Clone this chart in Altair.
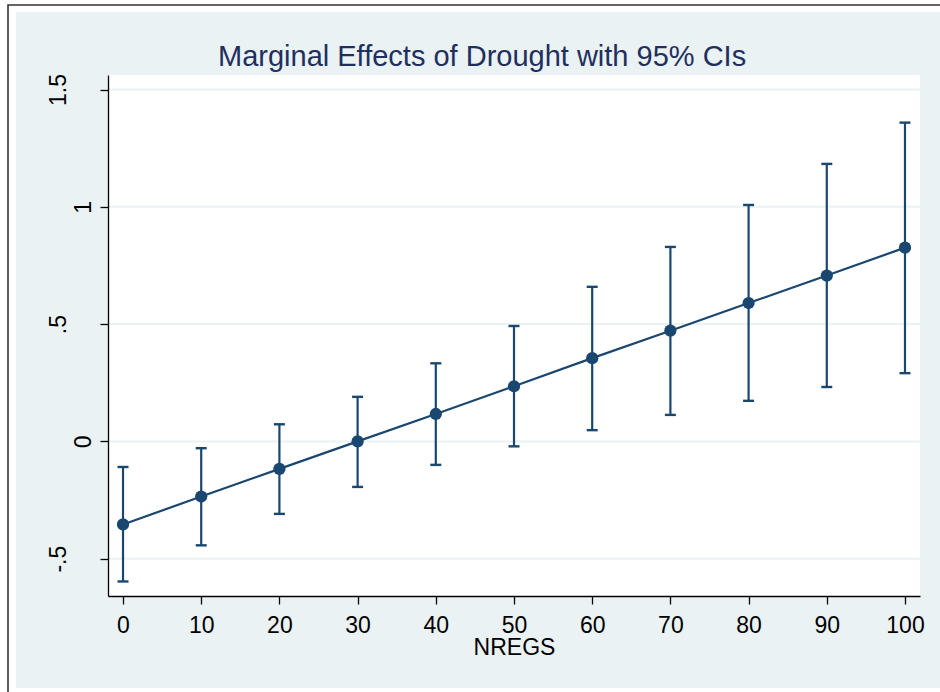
import altair as alt
import pandas as pd

# ---- data ----
x_vals = [0, 10, 20, 30, 40, 50, 60, 70, 80, 90, 100]
estimate = [-0.354, -0.235, -0.117, 0.0, 0.117, 0.235, 0.355, 0.472, 0.590, 0.707, 0.826]
ci_low = [-0.597, -0.443, -0.309, -0.194, -0.100, -0.021, 0.048, 0.113, 0.173, 0.232, 0.291]
ci_high = [-0.109, -0.029, 0.073, 0.190, 0.333, 0.492, 0.659, 0.829, 1.008, 1.183, 1.359]
y_ticks = [-0.5, 0, 0.5, 1, 1.5]
y_tick_labels = ["-.5", "0", ".5", "1", "1.5"]
x_ticks = [0, 10, 20, 30, 40, 50, 60, 70, 80, 90, 100]
title_text = "Marginal Effects of Drought with 95% CIs"
x_title = "NREGS"

df = pd.DataFrame({"NREGS": x_vals, "est": estimate, "lo": ci_low, "hi": ci_high})
grid_df = pd.DataFrame({"y": y_ticks})

NAVY = "#1a476f"
BG = "#EAF2F3"
FONT = "Liberation Sans"

label_expr = " : ".join(
    f"datum.value == {v} ? '{t}'" for v, t in zip(y_ticks, y_tick_labels)
) + " : ''"

xscale = alt.Scale(domain=[-1.92, 101.92], nice=False, zero=False)
yscale = alt.Scale(domain=[-0.659, 1.562], nice=False, zero=False)

xaxis = alt.Axis(
    values=x_ticks, title=x_title, grid=False,
    domainColor="black", domainWidth=1.3, tickColor="black", tickWidth=1.3, tickSize=8,
    labelFont=FONT, labelFontSize=23, labelColor="black", labelBaseline="alphabetic",
    labelPadding=28, labelFlush=False, labelOverlap=False,
    titleFont=FONT, titleFontSize=23, titleFontWeight="normal", titleColor="black",
    titleBaseline="alphabetic", titleY=58, zindex=1,
)
yaxis = alt.Axis(
    values=y_ticks, labelExpr=label_expr, title=None, grid=False,
    domainColor="black", domainWidth=1.3, tickColor="black", tickWidth=1.3, tickSize=8,
    labelFont=FONT, labelFontSize=23, labelColor="black", labelAngle=270, labelAlign="center",
    labelBaseline={"condition": {"test": "datum.value == 0 || datum.value == 1", "value": "line-top"},
                   "value": "line-bottom"},
    labelLineHeight=25, labelPadding=29, labelFlush=False, labelOverlap=False, zindex=1,
)

X = alt.X("NREGS:Q", scale=xscale, axis=xaxis)
Y = alt.Y("est:Q", scale=yscale, axis=yaxis)

one = alt.Data(values=[{"k": 1}])

# decorative graph region: light background, white plot region, outer border
bg = alt.Chart(one).mark_rect(fill=BG).encode(
    x=alt.value(-92), x2=alt.value(832), y=alt.value(-63), y2=alt.value(613))
border = alt.Chart(one).mark_rect(fill="white", fillOpacity=0, stroke="#333333", strokeWidth=1.6).encode(
    x=alt.value(-100), x2=alt.value(900), y=alt.value(-70), y2=alt.value(700))
plot_bg = alt.Chart(one).mark_rect(fill="white").encode(
    x=alt.value(0), x2=alt.value(812), y=alt.value(0), y2=alt.value(521))

grid = alt.Chart(grid_df).mark_rule(color=BG, strokeWidth=2).encode(
    y=alt.Y("y:Q", scale=yscale, axis=yaxis))

line = alt.Chart(df).mark_line(color=NAVY, strokeWidth=2.2).encode(x=X, y=Y)
bars = alt.Chart(df).mark_rule(color=NAVY, strokeWidth=2.2).encode(
    x=X, y=alt.Y("lo:Q", scale=yscale, axis=yaxis), y2="hi:Q")
cap_lo = alt.Chart(df).mark_tick(color=NAVY, orient="horizontal", size=11, thickness=2.4, opacity=1).encode(
    x=X, y=alt.Y("lo:Q", scale=yscale, axis=yaxis))
cap_hi = alt.Chart(df).mark_tick(color=NAVY, orient="horizontal", size=11, thickness=2.4, opacity=1).encode(
    x=X, y=alt.Y("hi:Q", scale=yscale, axis=yaxis))
points = alt.Chart(df).mark_point(color=NAVY, filled=True, opacity=1, size=150, shape="circle").encode(x=X, y=Y)

chart = alt.layer(bg, border, plot_bg, grid, line, bars, cap_lo, cap_hi, points).properties(
    width=812, height=521,
    autosize=alt.AutoSizeParams(type="none"),
    padding={"left": 108, "top": 75, "right": 20, "bottom": 96},
    background="white",
    title=alt.TitleParams(
        text=title_text, font=FONT, fontSize=29, fontWeight="normal", color="#1f2f5f",
        anchor="start", frame="group", dx=110, baseline="alphabetic", offset=-91,
    ),
).configure_view(stroke=None)

chart.save("out.html", embed_options={"renderer": "svg", "actions": False})
